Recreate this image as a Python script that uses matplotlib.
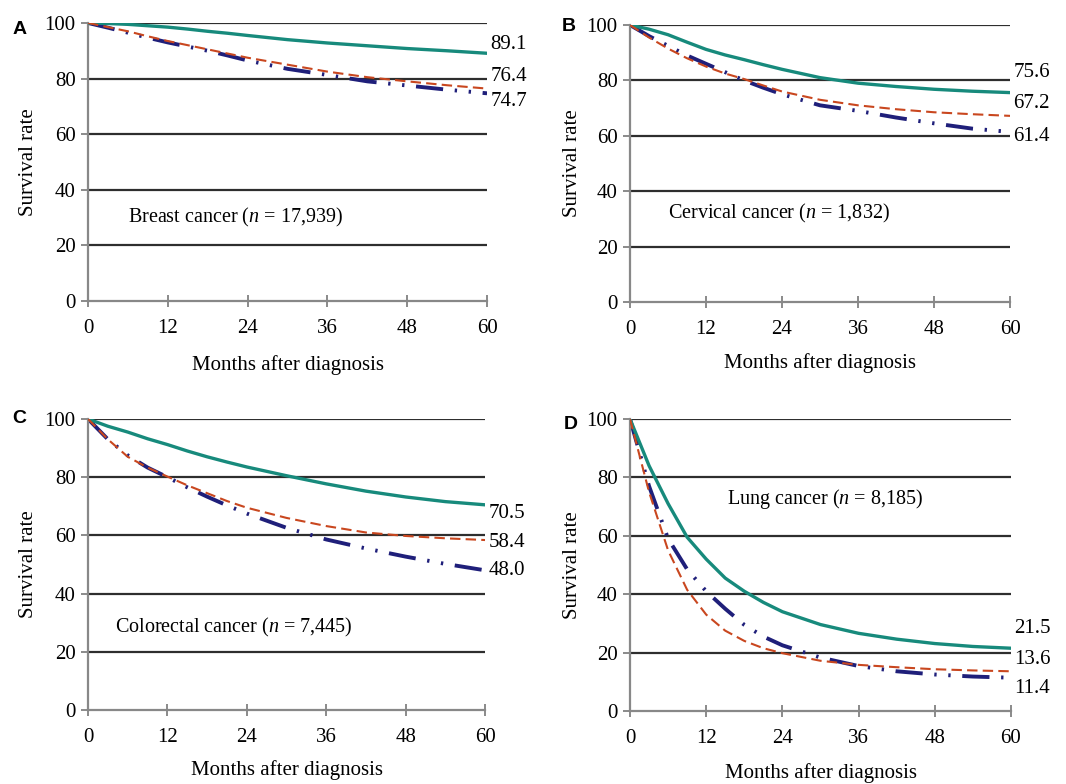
import matplotlib
matplotlib.use("Agg")
import matplotlib.pyplot as plt

plt.rcParams["font.family"] = ["Liberation Serif", "DejaVu Serif"]
plt.rcParams["mathtext.fontset"] = "custom"
plt.rcParams["mathtext.rm"] = "Liberation Serif"
plt.rcParams["mathtext.it"] = "Liberation Serif:italic"

# months after diagnosis at which survival was read
months = [0, 3, 6, 9, 12, 15, 18, 21, 24, 30, 36, 42, 48, 54, 60]

# A: breast cancer
breast_teal = [100, 99.8, 99.5, 99.0, 98.5, 97.8, 97.0, 96.3, 95.5, 94.0, 92.8, 91.8, 90.8, 90.0, 89.1]
breast_red = [100, 98.5, 97.0, 95.2, 93.5, 92.0, 90.5, 89.0, 87.5, 85.0, 82.5, 80.5, 79.0, 77.6, 76.4]
breast_navy = [100, 98.3, 96.5, 94.7, 93.0, 91.5, 90.0, 88.3, 86.5, 83.5, 81.3, 79.0, 77.5, 76.0, 74.7]

# B: cervical cancer
cervical_teal = [100, 98.5, 96.5, 93.8, 91.2, 89.2, 87.5, 85.7, 84.0, 81.0, 79.0, 77.8, 76.8, 76.1, 75.6]
cervical_red = [100, 95.5, 91.5, 88.0, 85.0, 82.5, 80.5, 78.2, 76.0, 73.0, 71.0, 69.6, 68.5, 67.8, 67.2]
cervical_navy = [100, 96.0, 92.5, 89.0, 86.0, 83.0, 80.0, 77.4, 75.0, 71.0, 69.0, 66.6, 64.5, 62.6, 61.4]

# C: colorectal cancer
colorectal_teal = [100, 97.5, 95.5, 93.2, 91.2, 89.0, 87.0, 85.2, 83.5, 80.5, 77.7, 75.2, 73.2, 71.6, 70.5]
colorectal_red = [100, 93.0, 87.0, 83.3, 80.2, 77.2, 74.5, 71.8, 69.5, 66.0, 63.2, 61.0, 59.8, 59.0, 58.4]
colorectal_navy = [100, 93.0, 87.5, 83.3, 80.0, 76.5, 73.3, 70.3, 67.5, 62.6, 58.6, 55.5, 52.7, 50.2, 48.0]

# D: lung cancer
lung_teal = [100, 84.0, 71.0, 59.5, 52.0, 45.5, 41.0, 37.2, 34.0, 29.6, 26.6, 24.6, 23.1, 22.1, 21.5]
lung_red = [100, 75.0, 55.0, 41.5, 33.0, 27.5, 24.0, 21.5, 19.8, 17.2, 15.8, 15.0, 14.3, 13.9, 13.6]
lung_navy = [100, 77.0, 59.0, 48.5, 41.0, 35.0, 29.5, 25.5, 22.5, 18.3, 15.4, 13.6, 12.5, 11.8, 11.4]

panel_letters = ["A", "B", "C", "D"]
panel_titles = [
    ("Breast cancer", "17,939"),
    ("Cervical cancer", "1,832"),
    ("Colorectal cancer", "7,445"),
    ("Lung cancer", "8,185"),
]
panel_series = [
    (breast_teal, breast_red, breast_navy),
    (cervical_teal, cervical_red, cervical_navy),
    (colorectal_teal, colorectal_red, colorectal_navy),
    (lung_teal, lung_red, lung_navy),
]

# per-panel layout: axes rect, title anchor (data), end-label y (data),
# y/x label positions and panel letter position (axes fraction)
axes_rects = [
    [0.0826, 0.6161, 0.3743, 0.3546],
    [0.5910, 0.6148, 0.3565, 0.3533],
    [0.0826, 0.0944, 0.3724, 0.3712],
    [0.5910, 0.0931, 0.3574, 0.3725],
]
title_pos = [(6.0, 30.0), (6.0, 31.8), (4.1, 28.5), (15.3, 72.5)]
label_y = [
    (92.1, 80.6, 71.6),
    (82.7, 71.8, 59.9),
    (67.4, 57.4, 48.1),
    (28.2, 17.5, 7.6),
]
ylabel_x = [-0.125, -0.126, -0.125, -0.126]
xlabel_y = [-0.194, -0.184, -0.172, -0.178]
letter_pos = [(-0.19, 0.975), (-0.179, 0.993), (-0.19, 1.003), (-0.174, 0.98)]

teal = "#178a7c"
red = "#c9471f"
navy = "#1f1f7a"
fs = 15

fig = plt.figure(figsize=(10.66, 7.84), dpi=100)

for i in range(4):
    ax = fig.add_axes(axes_rects[i])
    s_teal, s_red, s_navy = panel_series[i]

    for y in range(20, 101, 20):
        ax.axhline(y, color="#2e2e2e", lw=1.6, zorder=1)

    ax.plot(months, s_teal, color=teal, lw=2.4, zorder=3)
    ax.plot(months, s_red, color=red, lw=1.5, dashes=(5, 2.5), zorder=4)
    ax.plot(months, s_navy, color=navy, lw=2.8, dashes=(7, 3, 0.6, 3, 0.6, 3), zorder=2)

    ax.set_xlim(0, 60)
    ax.set_ylim(0, 100)
    ax.set_xticks(range(0, 61, 12))
    ax.set_yticks(range(0, 101, 20))
    ax.tick_params(labelsize=fs, length=5, width=1.2, color="#777777", pad=4)
    ax.tick_params(axis="x", direction="inout", length=8, pad=9)
    for side in ("top", "right"):
        ax.spines[side].set_visible(False)
    for side in ("left", "bottom"):
        ax.spines[side].set_color("#888888")
        ax.spines[side].set_linewidth(1.6)

    ax.set_xlabel("Months after diagnosis", fontsize=fs)
    ax.set_ylabel("Survival rate", fontsize=fs)
    ax.xaxis.set_label_coords(0.5, xlabel_y[i])
    ax.yaxis.set_label_coords(ylabel_x[i], 0.5)

    # end-of-follow-up values
    for vals, ly in zip((s_teal, s_red, s_navy), label_y[i]):
        ax.annotate(f"{vals[-1]:.1f}", xy=(60, ly), xytext=(2.5, 0),
                    textcoords="offset points", va="center", ha="left",
                    fontsize=fs, annotation_clip=False)

    name, n = panel_titles[i]
    tx, ty = title_pos[i]
    ax.text(tx, ty, name + r" ($\it{n}$" + f" = {n})", fontsize=fs - 0.5,
            va="center", ha="left")

    lx, ly = letter_pos[i]
    ax.text(lx, ly, panel_letters[i], transform=ax.transAxes,
            fontsize=14, fontweight="bold", family="Liberation Sans",
            va="center", ha="left")

fig.savefig("out.png", dpi=100)
